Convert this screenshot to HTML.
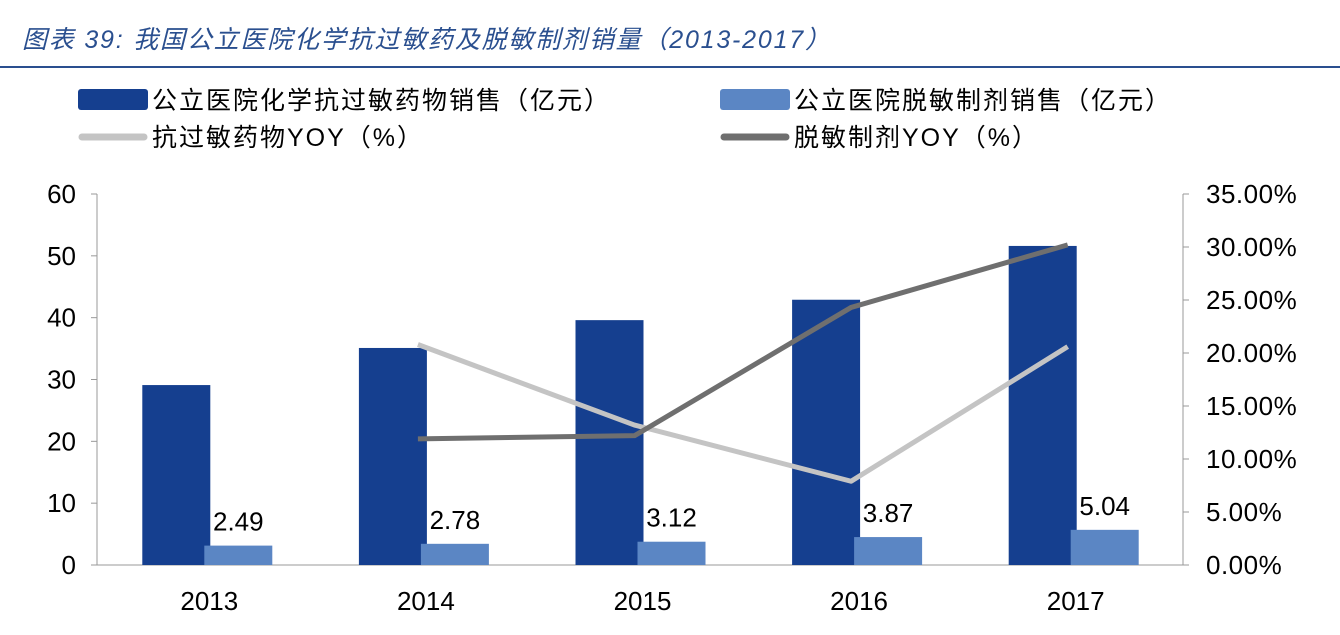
<!DOCTYPE html>
<html><head><meta charset="utf-8"><style>
body{margin:0;background:#fff;width:1340px;height:630px;overflow:hidden;font-family:"Liberation Sans","Noto Sans CJK SC",sans-serif}
</style></head><body>
<svg id="c" width="1340" height="630" xmlns="http://www.w3.org/2000/svg">
<text x="22" y="48" font-size="25" font-style="italic" letter-spacing="1.8" fill="#2a4f8f" font-family="Liberation Sans,Noto Sans CJK SC,sans-serif">图表 39:  我国公立医院化学抗过敏药及脱敏制剂销量（2013-2017）</text>
<line x1="0" y1="67" x2="1340" y2="67" stroke="#2a4f8f" stroke-width="2"/>
<g font-size="25" letter-spacing="2" fill="#000">
<rect x="78" y="89" width="70" height="21" rx="3" fill="#153f8f"/>
<text x="152" y="109">公立医院化学抗过敏药物销售（亿元）</text>
<rect x="720" y="89" width="70" height="21" rx="3" fill="#5b86c4"/>
<text x="794" y="109">公立医院脱敏制剂销售（亿元）</text>
<line x1="82" y1="137" x2="144" y2="137" stroke="#c4c4c4" stroke-width="7" stroke-linecap="round"/>
<text x="152" y="146">抗过敏药物YOY（%）</text>
<line x1="724" y1="137" x2="786" y2="137" stroke="#6f6f6f" stroke-width="7" stroke-linecap="round"/>
<text x="794" y="146">脱敏制剂YOY（%）</text>
</g>
<g id="plot"></g>
</svg>
<script>
const categories=["2013","2014","2015","2016","2017"];
const drugSales=[29.1,35.1,39.6,42.9,51.6];
const desensSales=[2.49,2.78,3.12,3.87,5.04];
const drugYoy=[null,20.8,13.2,7.9,20.6];
const desensYoy=[null,11.9,12.2,24.3,30.2];
const leftTicks=[0,10,20,30,40,50,60];
const rightTicks=[0,5,10,15,20,25,30,35];
const NS="http://www.w3.org/2000/svg";
const g=document.getElementById('plot');
const x0=100,x1=1183,y0=565,y1=194;
const band=(x1-x0)/categories.length;
const xc=i=>x0+band*(i+0.5);
const yL=v=>y0-(v/60)*(y0-y1);
const yR=v=>y0-(v/35)*(y0-y1);
function mk(t,a){const e=document.createElementNS(NS,t);for(const k in a)e.setAttribute(k,a[k]);g.appendChild(e);return e;}
let e;
e=mk('line',{x1:x0-3,y1:y1,x2:x0-3,y2:y0,stroke:'#999','stroke-width':1});


e=mk('line',{x1:x1,y1:y1,x2:x1,y2:y0,stroke:'#999','stroke-width':1});


e=mk('line',{x1:x0-3,y1:y0,x2:x1,y2:y0,stroke:'#999','stroke-width':1});


leftTicks.forEach(v=>{
 e=mk('text',{x:76,y:yL(v)+9,'text-anchor':'end','font-size':26});e.textContent=v;
 
 
 mk('line',{x1:x0-9,x2:x0-3,y1:yL(v),y2:yL(v),stroke:'#999'});
});
rightTicks.forEach(v=>{
 e=mk('text',{x:1206,y:yR(v)+9,'font-size':26,'letter-spacing':0.5});e.textContent=v.toFixed(2)+'%';
 
 
 mk('line',{x1:x1,x2:x1+6,y1:yR(v),y2:yR(v),stroke:'#999'});
});
categories.forEach((c,i)=>{
 e=mk('text',{x:xc(i)+1,y:610,'text-anchor':'middle','font-size':26});e.textContent=c;
 
 
 e=mk('rect',{x:xc(i)-66,y:yL(drugSales[i]),width:68,height:y0-yL(drugSales[i]),fill:'#153f8f'});
 
 
 e=mk('rect',{x:xc(i)-4,y:yL(desensSales[i])-4,width:68,height:y0-yL(desensSales[i])+4,fill:'#5b86c4'});
 
 
 e=mk('text',{x:xc(i)+30,y:yL(desensSales[i])-19,'text-anchor':'middle','font-size':26});e.textContent=desensSales[i].toFixed(2);
 
 
});
function line(arr,color,name){
 const pts=arr.map((v,i)=>v==null?null:(xc(i)-7)+','+yR(v)).filter(p=>p).join(' ');
 e=mk('polyline',{points:pts,fill:'none',stroke:color,'stroke-width':5,'stroke-linejoin':'round'});
 
 
}
line(drugYoy,'#c4c4c4','line-drug-yoy');
line(desensYoy,'#6f6f6f','line-desens-yoy');
</script>
</body></html>
